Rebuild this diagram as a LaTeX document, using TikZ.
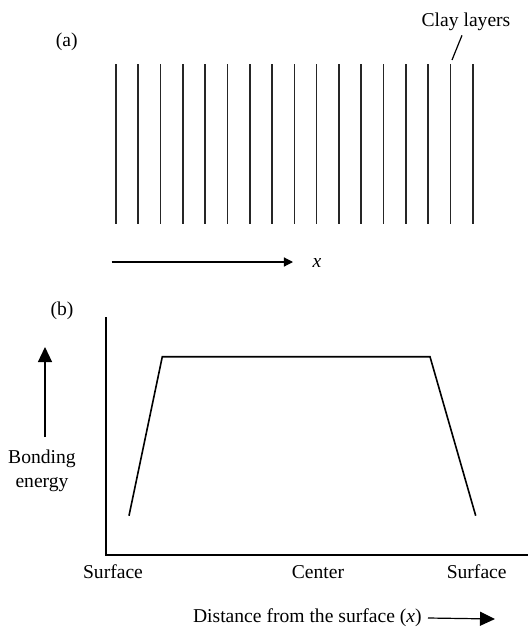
\documentclass[tikz,border=0pt]{standalone}
\usepackage{fontspec}
\setmainfont{Liberation Serif}
\usepackage{tikz}
\usetikzlibrary{positioning, arrows.meta}
\tikzset{
    layer/.style={line width=0.8pt, black!85},
    lbl/.style={font=\fontsize{9.8}{11}\selectfont, inner sep=0pt},
    arrow/.style={-{Triangle[length=4.5pt, width=4.5pt]}, line width=0.6pt},
    bigarrow/.style={-{Triangle[length=7.5pt, width=7pt]}, line width=0.6pt}
}

\begin{document}
\begin{tikzpicture}[x=0.5pt, y=-0.5pt,
    axis/.style={line width=0.7pt},
    curve/.style={line width=0.8pt}
]
    \useasboundingbox (0,0) rectangle (528,634);

    % --- Panel (a): clay layers ---
    \node[lbl] (pa) at (66.7,42) {(a)};
    \foreach \i in {0,...,16}
        \draw[layer] (116+22.3*\i,64) -- ++(0,160);

    \node[lbl] (clay) at (466,22) {Clay layers};
    \coordinate (tip) at (452,60);
    \draw[line width=0.6pt] (clay.south) ++(-4,4) -- (tip);

    % x direction
    \coordinate (xs) at (111.7,262);
    \node[lbl] (xlab) at (317,263) {\textit{x}};
    \draw[arrow] (xs) -- (293,262);

    % --- Panel (b): bonding energy ---
    \node[lbl] (pb) at (62,311) {(b)};
    \coordinate (origin) at (106,555);
    \draw[axis] (106,317) -- (origin) -- (528,555);

    \coordinate (c1) at (129,515.7);
    \coordinate (c2) at (162.3,356.7);
    \coordinate (c3) at (430,356.7);
    \coordinate (c4) at (475.7,515.7);
    \draw[curve] (c1) -- (c2) -- (c3) -- (c4);

    \node[lbl, align=center] (be) at (42,471) {Bonding\\[1pt]energy};
    \coordinate (bs) at (45,437);
    \draw[bigarrow] (bs) -- (45,347);

    \node[lbl] (s1) at (113,572) {Surface};
    \node[lbl] (ce) at (318,572) {Center};
    \node[lbl] (s2) at (476.7,572) {Surface};

    \node[lbl, anchor=east] (dist) at (422,618) {Distance from the surface (\textit{x})};
    \draw[bigarrow] ([xshift=3pt]dist.east) -- (495,619);
\end{tikzpicture}
\end{document}
